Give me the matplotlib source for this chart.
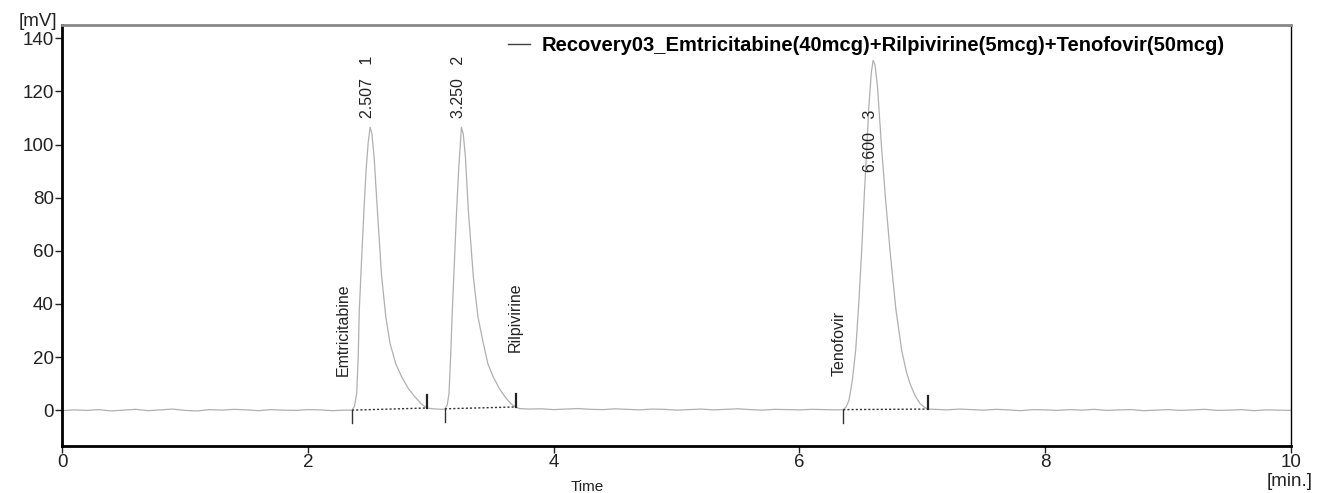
import matplotlib.pyplot as plt
from matplotlib.lines import Line2D

plt.rcParams['font.family'] = ['Liberation Sans', 'DejaVu Sans']

# 크로마토그램 신호
time_min = [0.00, 0.10, 0.20, 0.30, 0.40, 0.50, 0.60, 0.70, 0.80, 0.90, 1.00, 1.10,
            1.20, 1.30, 1.40, 1.50, 1.60, 1.70, 1.80, 1.90, 2.00, 2.10, 2.20, 2.30,
            2.36, 2.38, 2.398, 2.41, 2.419, 2.437, 2.457, 2.475, 2.492, 2.507, 2.522,
            2.54, 2.566, 2.601, 2.635, 2.669, 2.715, 2.764, 2.82, 2.872, 2.92, 2.954,
            2.97, 3.00, 3.05, 3.10,
            3.116, 3.135, 3.149, 3.162, 3.176, 3.193, 3.211, 3.228, 3.242, 3.25, 3.265,
            3.283, 3.306, 3.347, 3.385, 3.428, 3.465, 3.509, 3.56, 3.605, 3.65, 3.686,
            3.72, 3.80, 3.90, 4.00, 4.10, 4.20, 4.30, 4.40, 4.50, 4.60, 4.70, 4.80,
            4.90, 5.00, 5.10, 5.20, 5.30, 5.40, 5.50, 5.60, 5.70, 5.80, 5.90, 6.00,
            6.10, 6.20, 6.30,
            6.357, 6.38, 6.404, 6.43, 6.458, 6.483, 6.507, 6.527, 6.547, 6.565, 6.585,
            6.60, 6.615, 6.635, 6.67, 6.70, 6.737, 6.785, 6.832, 6.87, 6.90, 6.94,
            6.981, 7.02, 7.049, 7.10, 7.20, 7.30, 7.40, 7.50, 7.60, 7.70, 7.80, 7.90,
            8.00, 8.10, 8.20, 8.30, 8.40, 8.50, 8.60, 8.70, 8.80, 8.90, 9.00, 9.10,
            9.20, 9.30, 9.40, 9.50, 9.60, 9.70, 9.80, 9.90, 10.00]
signal_mv = [-0.2, 0.1, -0.1, 0.2, -0.3, 0.0, 0.3, -0.2, 0.1, 0.4, -0.1, -0.3,
             0.2, 0.0, 0.3, 0.1, -0.2, 0.2, 0.0, -0.1, 0.2, 0.1, -0.2, 0.0,
             0.0, 1.5, 6.4, 20.0, 37.6, 56.0, 75.3, 91.0, 101.0, 106.5, 104.0,
             95.0, 75.3, 50.2, 35.0, 25.2, 17.5, 12.5, 8.0, 5.0, 2.5, 1.3,
             0.8, 0.6, 0.4, 0.3,
             0.5, 2.0, 6.4, 20.0, 37.6, 56.0, 75.3, 91.0, 101.0, 106.5, 104.0,
             95.0, 75.3, 50.2, 35.0, 25.2, 17.5, 12.5, 8.0, 5.0, 2.5, 1.3,
             0.6, 0.4, 0.5, 0.2, 0.4, 0.6, 0.3, 0.2, 0.5, 0.3, 0.1, 0.4,
             0.3, 0.0, 0.2, 0.4, 0.1, 0.3, 0.5, 0.2, 0.0, 0.3, 0.2, 0.1,
             0.3, 0.2, 0.1,
             0.2, 1.2, 3.8, 11.0, 22.6, 40.0, 60.2, 80.0, 97.9, 114.0, 127.0,
             131.7, 130.0, 122.0, 97.9, 80.0, 60.2, 38.0, 22.6, 14.5, 10.0, 5.5,
             2.5, 1.0, 0.4, 0.3, 0.1, 0.4, 0.2, 0.0, 0.3, 0.1, -0.2, 0.2,
             0.1, -0.1, 0.2, 0.0, 0.3, -0.1, 0.1, 0.2, -0.2, 0.0, 0.2, -0.1,
             0.1, 0.3, -0.1, 0.0, 0.2, -0.2, 0.1, 0.0, -0.1]

# 피크 정보
peak_rt = [2.507, 3.250, 6.600]
peak_no = [1, 2, 3]
peak_names = ['Emtricitabine', 'Rilpivirine', 'Tenofovir']
start_t = [2.36, 3.116, 6.357]
start_y = [0.0, 0.5, 0.2]
end_t = [2.967, 3.69, 7.05]
end_y = [0.8, 1.2, 0.4]

legend_label = 'Recovery03_Emtricitabine(40mcg)+Rilpivirine(5mcg)+Tenofovir(50mcg)'

fig = plt.figure(figsize=(13.19, 4.93), dpi=100)
ax = fig.add_axes([62 / 1319, 1 - 446 / 493, (1291 - 62) / 1319, (446 - 25) / 493])

ax.plot(time_min, signal_mv, color='#b0b0b0', lw=0.9)

# 적분 기준선과 시작/끝 표시
for i in range(len(peak_rt)):
    ax.plot([start_t[i], end_t[i]], [start_y[i], end_y[i]], ls=(0, (1.5, 1.5)), color='#333333', lw=1.0)
    ax.plot([start_t[i], start_t[i]], [start_y[i] - 5, start_y[i]], color='#333333', lw=1.0)
    ax.plot([end_t[i], end_t[i]], [end_y[i], end_y[i] + 5], color='#222222', lw=1.6)

# 피크 라벨 (머무름 시간 / 번호, 성분 이름)
label_y = [110, 110, 89.5]
name_x = [2.29, 3.69, 6.32]
name_y = [13, 22, 13]
for i in range(len(peak_rt)):
    ax.text(peak_rt[i] - 0.025, label_y[i], '%.3f   %d' % (peak_rt[i], peak_no[i]),
            rotation=90, ha='center', va='bottom', fontsize=11.5, color='#222222')
    ax.text(name_x[i], name_y[i], peak_names[i],
            rotation=90, ha='center', va='bottom', fontsize=11.5, color='#222222')

ax.set_xlim(0, 10)
ax.set_ylim(-13.5, 145)
ax.set_xticks([0, 2, 4, 6, 8, 10])
ax.set_yticks([0, 20, 40, 60, 80, 100, 120, 140])
ax.tick_params(direction='out', length=5, width=1, labelsize=13.5, colors='#222222', pad=1)

ax.spines['left'].set_linewidth(2)
ax.spines['bottom'].set_linewidth(2)
ax.spines['right'].set_linewidth(1)
ax.spines['top'].set_linewidth(2)
ax.spines['top'].set_color('#888888')

fig.text(38 / 1319, 1 - 22 / 493, '[mV]', ha='center', va='center', fontsize=13.5, color='#222222')
fig.text(1290 / 1319, 1 - 481 / 493, '[min.]', ha='center', va='center', fontsize=13.5, color='#222222')
fig.text(587 / 1319, 1 - 487 / 493, 'Time', ha='center', va='center', fontsize=11, color='#222222')

handle = Line2D([], [], color='#404040', lw=1)
ax.legend([handle], [legend_label], loc='upper left', bbox_to_anchor=(508 / 1319, 1 - 36 / 493),
          bbox_transform=fig.transFigure, frameon=False, borderpad=0, borderaxespad=0,
          handlelength=1.1, handletextpad=0.55, prop={'weight': 'bold', 'size': 14.5})

fig.savefig('out.png', dpi=100)
